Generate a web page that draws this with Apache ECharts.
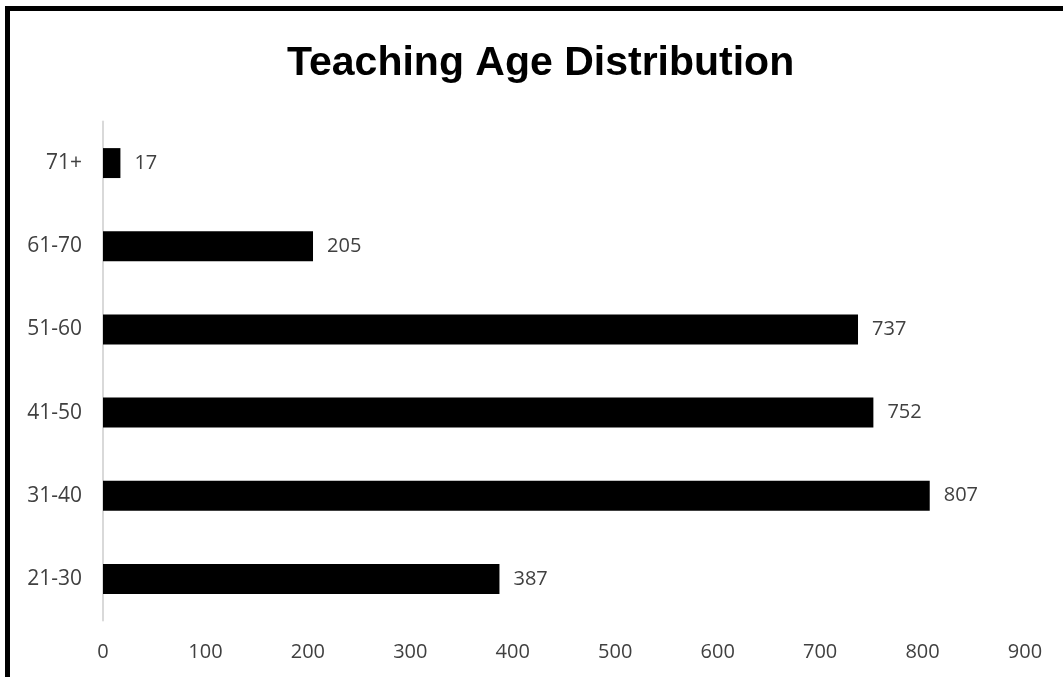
<!DOCTYPE html>
<html>
<head>
<meta charset="utf-8">
<script src="https://cdn.jsdelivr.net/npm/echarts@6/dist/echarts.min.js"></script>
<style>
html,body{margin:0;padding:0;background:#fff;}
#chart{width:1063px;height:677px;position:absolute;left:0;top:0;}
#frame{position:absolute;left:5px;top:6px;width:1058px;height:671px;border-top:5px solid #000;border-left:5px solid #000;box-sizing:border-box;pointer-events:none;}
</style>
</head>
<body>
<div id="chart"></div>
<div id="frame"></div>
<script>
const categories = ['21-30', '31-40', '41-50', '51-60', '61-70', '71+'];
const values = [387, 807, 752, 737, 205, 17];
const titleText = 'Teaching Age Distribution';

const chart = echarts.init(document.getElementById('chart'));
const font = 'Open Sans, Noto Sans, sans-serif';
chart.setOption({
  backgroundColor: '#fff',
  animation: false,
  title: {
    text: titleText,
    left: 282,
    top: 38,
    textStyle: {fontFamily: 'Liberation Sans, Arial, sans-serif', fontWeight: 'bold', fontSize: 41, color: '#000'}
  },
  grid: {left: 103, right: 38, top: 121.5, bottom: 56.5, containLabel: false},
  xAxis: {
    type: 'value',
    min: 0, max: 900, interval: 100,
    axisLine: {show: false},
    axisTick: {show: false},
    splitLine: {show: false},
    axisLabel: {fontFamily: font, fontSize: 20, color: '#404040', margin: 22}
  },
  yAxis: {
    type: 'category',
    data: categories,
    axisLine: {show: true, lineStyle: {color: '#d9d9d9', width: 2}},
    axisTick: {show: false},
    axisLabel: {fontFamily: font, fontSize: 21, color: '#404040', margin: 21}
  },
  series: [{
    type: 'bar',
    data: values,
    barWidth: '36%',
    itemStyle: {color: '#000'},
    label: {show: true, position: 'right', distance: 14, fontFamily: font, fontSize: 20, color: '#404040'}
  }]
});
</script>
</body>
</html>
